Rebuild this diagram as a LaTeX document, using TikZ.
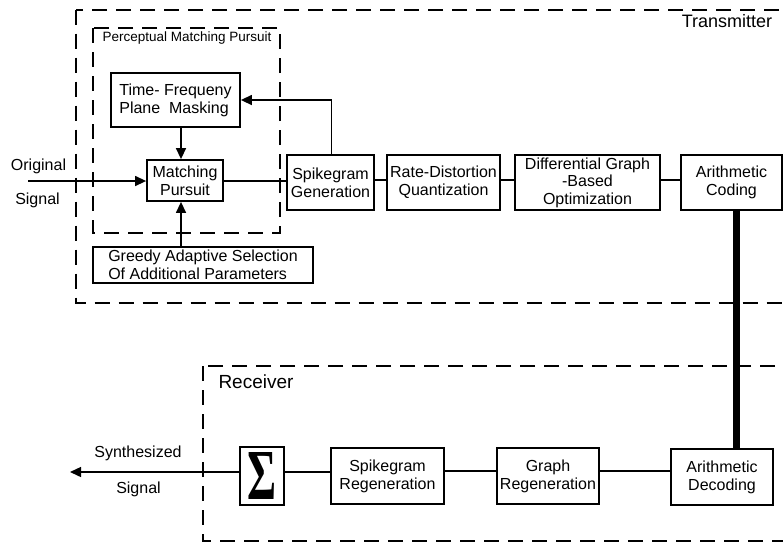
\documentclass[tikz,border=0pt]{standalone}
\usepackage{fontspec}
\setmainfont{Liberation Sans}
\newfontfamily\sigmafont{Liberation Serif}
\usepackage{graphicx}
\usetikzlibrary{arrows.meta}
\begin{document}
\begin{tikzpicture}[x=1pt,y=-1pt,
  box/.style={draw,line width=1.8pt,inner sep=0pt,align=center,font=\fontsize{16}{18}\selectfont},
  dashbox/.style={draw,line width=2pt,dash pattern=on 15pt off 9pt},
  conn/.style={line width=1.4pt},
  arr/.style={conn,-{Triangle[length=11pt,width=10pt]}},
  lbl/.style={font=\fontsize{16}{18}\selectfont,inner sep=0pt},
  thickline/.style={line width=7pt},
]
\useasboundingbox (0,0) rectangle (783,544);
\clip (0,0) rectangle (783,544);

% frames
\draw[dashbox] (76,9.5) rectangle (830,303);
\draw[dashbox] (93,28) rectangle (280,233);
\draw[dashbox] (203,366) rectangle (830,541);

\node[lbl,font=\fontsize{18}{20}\selectfont] (tx) at (727,21) {Transmitter};
\node[lbl,font=\fontsize{19}{21}\selectfont] (rx) at (256,382) {Receiver};
\node[lbl,font=\fontsize{13.5}{15}\selectfont] (pmp) at (187,38) {Perceptual Matching Pursuit};

% transmitter blocks
\node[box,minimum width=129pt,minimum height=54pt,align=left] (tf) at (175.5,100) {Time- Frequeny\\Plane\ \ Masking};
\node[box,minimum width=76pt,minimum height=41pt] (mp) at (185,180.5) {Matching\\Pursuit};
\node[box,minimum width=220pt,minimum height=36pt,align=left] (gr) at (203,265) {Greedy Adaptive Selection\\Of Additional Parameters};
\node[box,minimum width=87pt,minimum height=55pt] (sg) at (330.5,182.5) {Spikegram\\Generation};
\node[box,minimum width=113pt,minimum height=55pt] (rd) at (443.5,182.5) {Rate-Distortion\\Quantization};
\node[box,minimum width=145pt,minimum height=55pt,font=\fontsize{16}{17.5}\selectfont] (dg) at (587.5,182.5) {Differential Graph\\-Based\\Optimization};
\node[box,minimum width=101pt,minimum height=55pt] (ac) at (731.5,182.5) {Arithmetic\\Coding};

% receiver blocks
\node[box,minimum width=44pt,minimum height=58pt] (sum) at (262,476) {\resizebox{29pt}{47pt}{\sigmafont\bfseries Σ}};
\node[box,minimum width=113pt,minimum height=56pt] (sr) at (387.5,476) {Spikegram\\Regeneration};
\node[box,minimum width=102pt,minimum height=56pt] (grr) at (548,476) {Graph\\Regeneration};
\node[box,minimum width=102pt,minimum height=56pt] (ad) at (722,477) {Arithmetic\\Decoding};

% labels
\node[lbl] (orig) at (38.5,166) {Original};
\node[lbl] (sig1) at (37.5,200) {Signal};
\node[lbl] (syn) at (138,453) {Synthesized};
\node[lbl] (sig2) at (138.5,489) {Signal};

% helper coordinates
\coordinate (in) at (28,181);
\coordinate (out) at (70,472);
\coordinate (cx) at (181,0);
\coordinate (fx) at (331.5,0);
\coordinate (ty) at (0,181);
\coordinate (my) at (0,180);
\coordinate (ry) at (0,471);
\coordinate (by) at (0,472);
\coordinate (tk) at (736,0);

% connectors
\draw[arr] (in) -- (mp.west |- in);
\draw[arr] (tf.south -| cx) -- (mp.north -| cx);
\draw[arr] (gr.north -| cx) -- (mp.south -| cx);
\draw[arr] (sg.north -| fx) |- (tf.east);
\draw[conn] (mp.east |- ty) -- (sg.west |- ty);
\draw[conn] (sg.east |- my) -- (rd.west |- my);
\draw[conn] (rd.east |- my) -- (dg.west |- my);
\draw[conn] (dg.east |- my) -- (ac.west |- my);
\draw[thickline] (ac.south -| tk) -- (ad.north -| tk);
\draw[conn] (ad.west |- ry) -- (grr.east |- ry);
\draw[conn] (grr.west |- ry) -- (sr.east |- ry);
\draw[conn] (sr.west |- by) -- (sum.east |- by);
\draw[arr] (sum.west |- by) -- (out);
\end{tikzpicture}
\end{document}
